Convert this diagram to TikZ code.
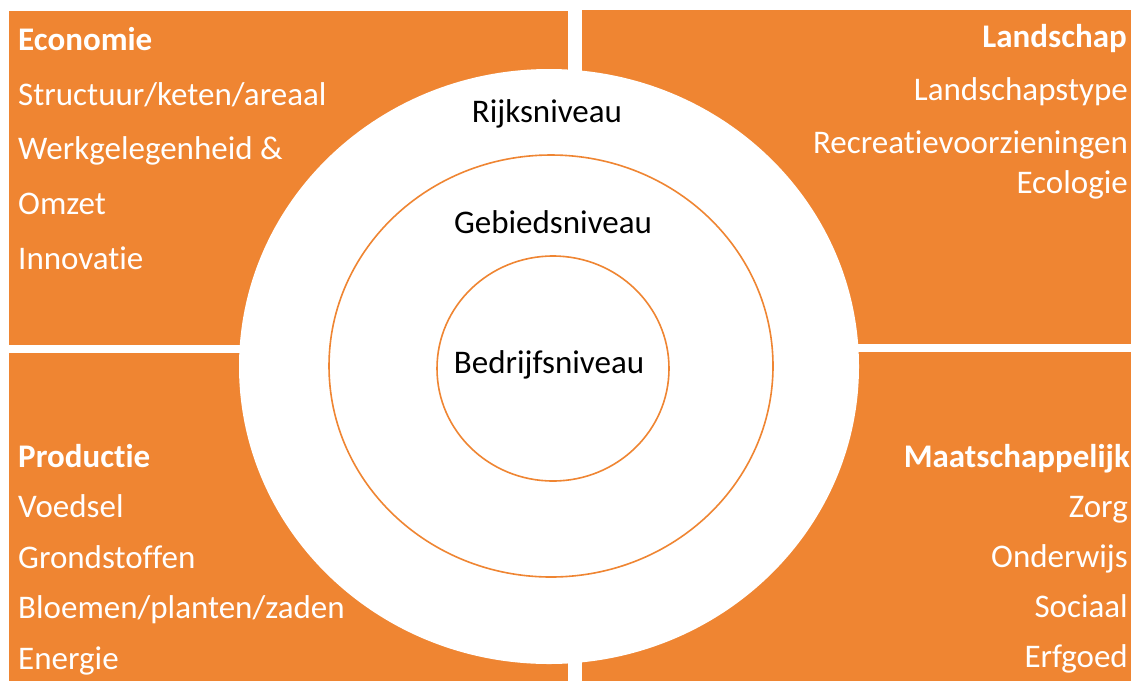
\documentclass[tikz,border=0pt]{standalone}
\usepackage{fontspec}
\setmainfont{Carlito}[RawFeature={-liga;-clig}]
\definecolor{accent}{RGB}{239,133,50}
\tikzset{
  panel/.style={fill=accent, draw=none},
  ring/.style={draw=accent, line width=1.6pt},
  ltxt/.style={anchor=base west, inner sep=0pt, text=white, font=\fontsize{33}{40}\selectfont},
  rtxt/.style={anchor=base east, inner sep=0pt, text=white, font=\fontsize{33}{40}\selectfont},
  lhead/.style={ltxt, font=\fontsize{33}{40}\selectfont\bfseries},
  rhead/.style={rtxt, font=\fontsize{33}{40}\selectfont\bfseries},
  lvl/.style={anchor=base, inner sep=0pt, text=black, font=\fontsize{33}{40}\selectfont}
}
\begin{document}
\begin{tikzpicture}[x=1pt, y=-1pt]
\useasboundingbox (0,0) rectangle (1131,681);
\fill[white] (0,0) rectangle (1131,681);
% panels
\fill[panel] (9,11) rectangle (568,345);
\fill[panel] (582,10) rectangle (1131,344);
\fill[panel] (9,353) rectangle (568,681);
\fill[panel] (582,352) rectangle (1131,681);
% circles
\fill[white] (549,366.5) ellipse [x radius=310, y radius=297.5];
\draw[ring] (551,366) ellipse [x radius=222, y radius=211];
\draw[ring] (553,368.5) ellipse [x radius=116, y radius=112.5];
% level labels
\node[lvl] (rijk) at (547,122) {Rijksniveau};
\node[lvl] (gebied) at (553,233) {Gebiedsniveau};
\node[lvl] (bedrijf) at (549,373) {Bedrijfsniveau};
% Economie
\node[lhead] (eco) at (18,50) {Economie};
\node[ltxt] (eco1) at (18,105) {Structuur/keten/areaal};
\node[ltxt] (eco2) at (18,159) {Werkgelegenheid \&};
\node[ltxt] (eco3) at (18,214) {Omzet};
\node[ltxt] (eco4) at (18,269) {Innovatie};
% Productie
\node[lhead] (prod) at (18,467) {Productie};
\node[ltxt] (prod1) at (18,517) {Voedsel};
\node[ltxt] (prod2) at (18,568) {Grondstoffen};
\node[ltxt] (prod3) at (18,618) {Bloemen/planten/zaden};
\node[ltxt] (prod4) at (18,669) {Energie};
% Landschap
\node[rhead] (land) at (1127,47) {Landschap};
\node[rtxt] (land1) at (1128,100) {Landschapstype};
\node[rtxt] (land2) at (1128,153) {Recreatievoorzieningen};
\node[rtxt] (land3) at (1128,193) {Ecologie};
% Maatschappelijk
\node[rhead] (maat) at (1130,467) {Maatschappelijk};
\node[rtxt] (maat1) at (1128,517) {Zorg};
\node[rtxt] (maat2) at (1128,567) {Onderwijs};
\node[rtxt] (maat3) at (1128,617) {Sociaal};
\node[rtxt] (maat4) at (1128,667) {Erfgoed};
\end{tikzpicture}
\end{document}
